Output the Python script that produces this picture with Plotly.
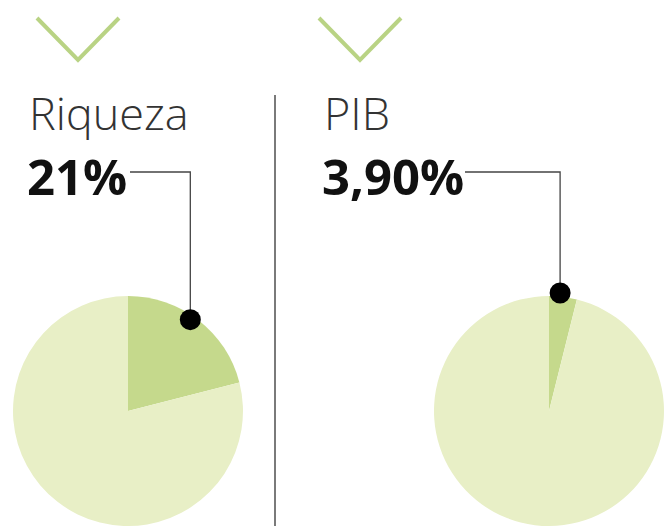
import math
import plotly.graph_objects as go

# ---- data ----
titles = ["Riqueza", "PIB"]
shares = [21.0, 3.90]            # percent
share_labels = ["21%", "3,90%"]

W, H = 665, 526
slice_color = "#c5d98c"
rest_color = "#e8efc6"

# layout (pixels)
pie_cx = [128, 549]
pie_cy = 412
pie_r = 116
text_x = [27, 322]
dot_rfac = [0.96, 1.03]
dot_afrac = [0.45, 0.38]

fig = go.Figure()

for i, (t, v) in enumerate(zip(titles, shares)):
    cx = pie_cx[i]
    x0 = (cx - pie_r) / W
    x1 = (cx + pie_r) / W
    y1 = (H - pie_cy + pie_r) / H
    fig.add_trace(go.Pie(
        values=[v, 100 - v],
        labels=[t, "resto"],
        sort=False,
        direction="clockwise",
        rotation=0,
        marker=dict(colors=[slice_color, rest_color], line=dict(width=0)),
        textinfo="none",
        hoverinfo="label+value",
        showlegend=False,
        domain=dict(x=[max(0, x0), min(1, x1)], y=[0, min(1, y1)]),
    ))

# invisible pixel axes for the annotations overlay
fig.update_layout(
    xaxis=dict(range=[0, W], visible=False, fixedrange=True),
    yaxis=dict(range=[H, 0], visible=False, fixedrange=True),
)

leader_y = 172
label_end = [130, 465]
for i, v in enumerate(shares):
    ang = math.radians(v / 100 * 360 * dot_afrac[i])
    dx = pie_cx[i] + pie_r * dot_rfac[i] * math.sin(ang)
    dy = pie_cy - pie_r * dot_rfac[i] * math.cos(ang)
    fig.add_shape(type="path",
                  path=f"M {label_end[i]},{leader_y} L {dx:.1f},{leader_y} L {dx:.1f},{dy:.1f}",
                  xref="x", yref="y", layer="above",
                  line=dict(color="#444444", width=1.3))
    rr = 10.5
    fig.add_shape(type="circle", x0=dx - rr, x1=dx + rr, y0=dy - rr, y1=dy + rr,
                  xref="x", yref="y", layer="above",
                  fillcolor="#000000", line=dict(width=0))
    # title
    fig.add_annotation(x=text_x[i], y=112, xref="x", yref="y", text=titles[i],
                       showarrow=False, xanchor="left", yanchor="middle",
                       font=dict(family="Open Sans", size=45, color="#333333", weight=300))
    fig.add_annotation(x=text_x[i] - 2, y=176, xref="x", yref="y", text="<b>" + share_labels[i] + "</b>",
                       showarrow=False, xanchor="left", yanchor="middle",
                       font=dict(family="Open Sans", size=49, color="#111111"))

# chevrons
for cx in [78, 360]:
    fig.add_shape(type="path", path=f"M {cx-41},18 L {cx},60 L {cx+41},18",
                  xref="x", yref="y", line=dict(color="#b9d384", width=4))

# divider
fig.add_shape(type="line", x0=275, x1=275, y0=95, y1=H, xref="x", yref="y",
              line=dict(color="#7a7a7a", width=2))

fig.update_layout(
    width=W, height=H,
    margin=dict(l=0, r=0, t=0, b=0),
    paper_bgcolor="white", plot_bgcolor="rgba(0,0,0,0)",
    showlegend=False,
)

fig.write_html("out.html", config={"displayModeBar": False},
               post_script="document.body.style.margin='0';")
